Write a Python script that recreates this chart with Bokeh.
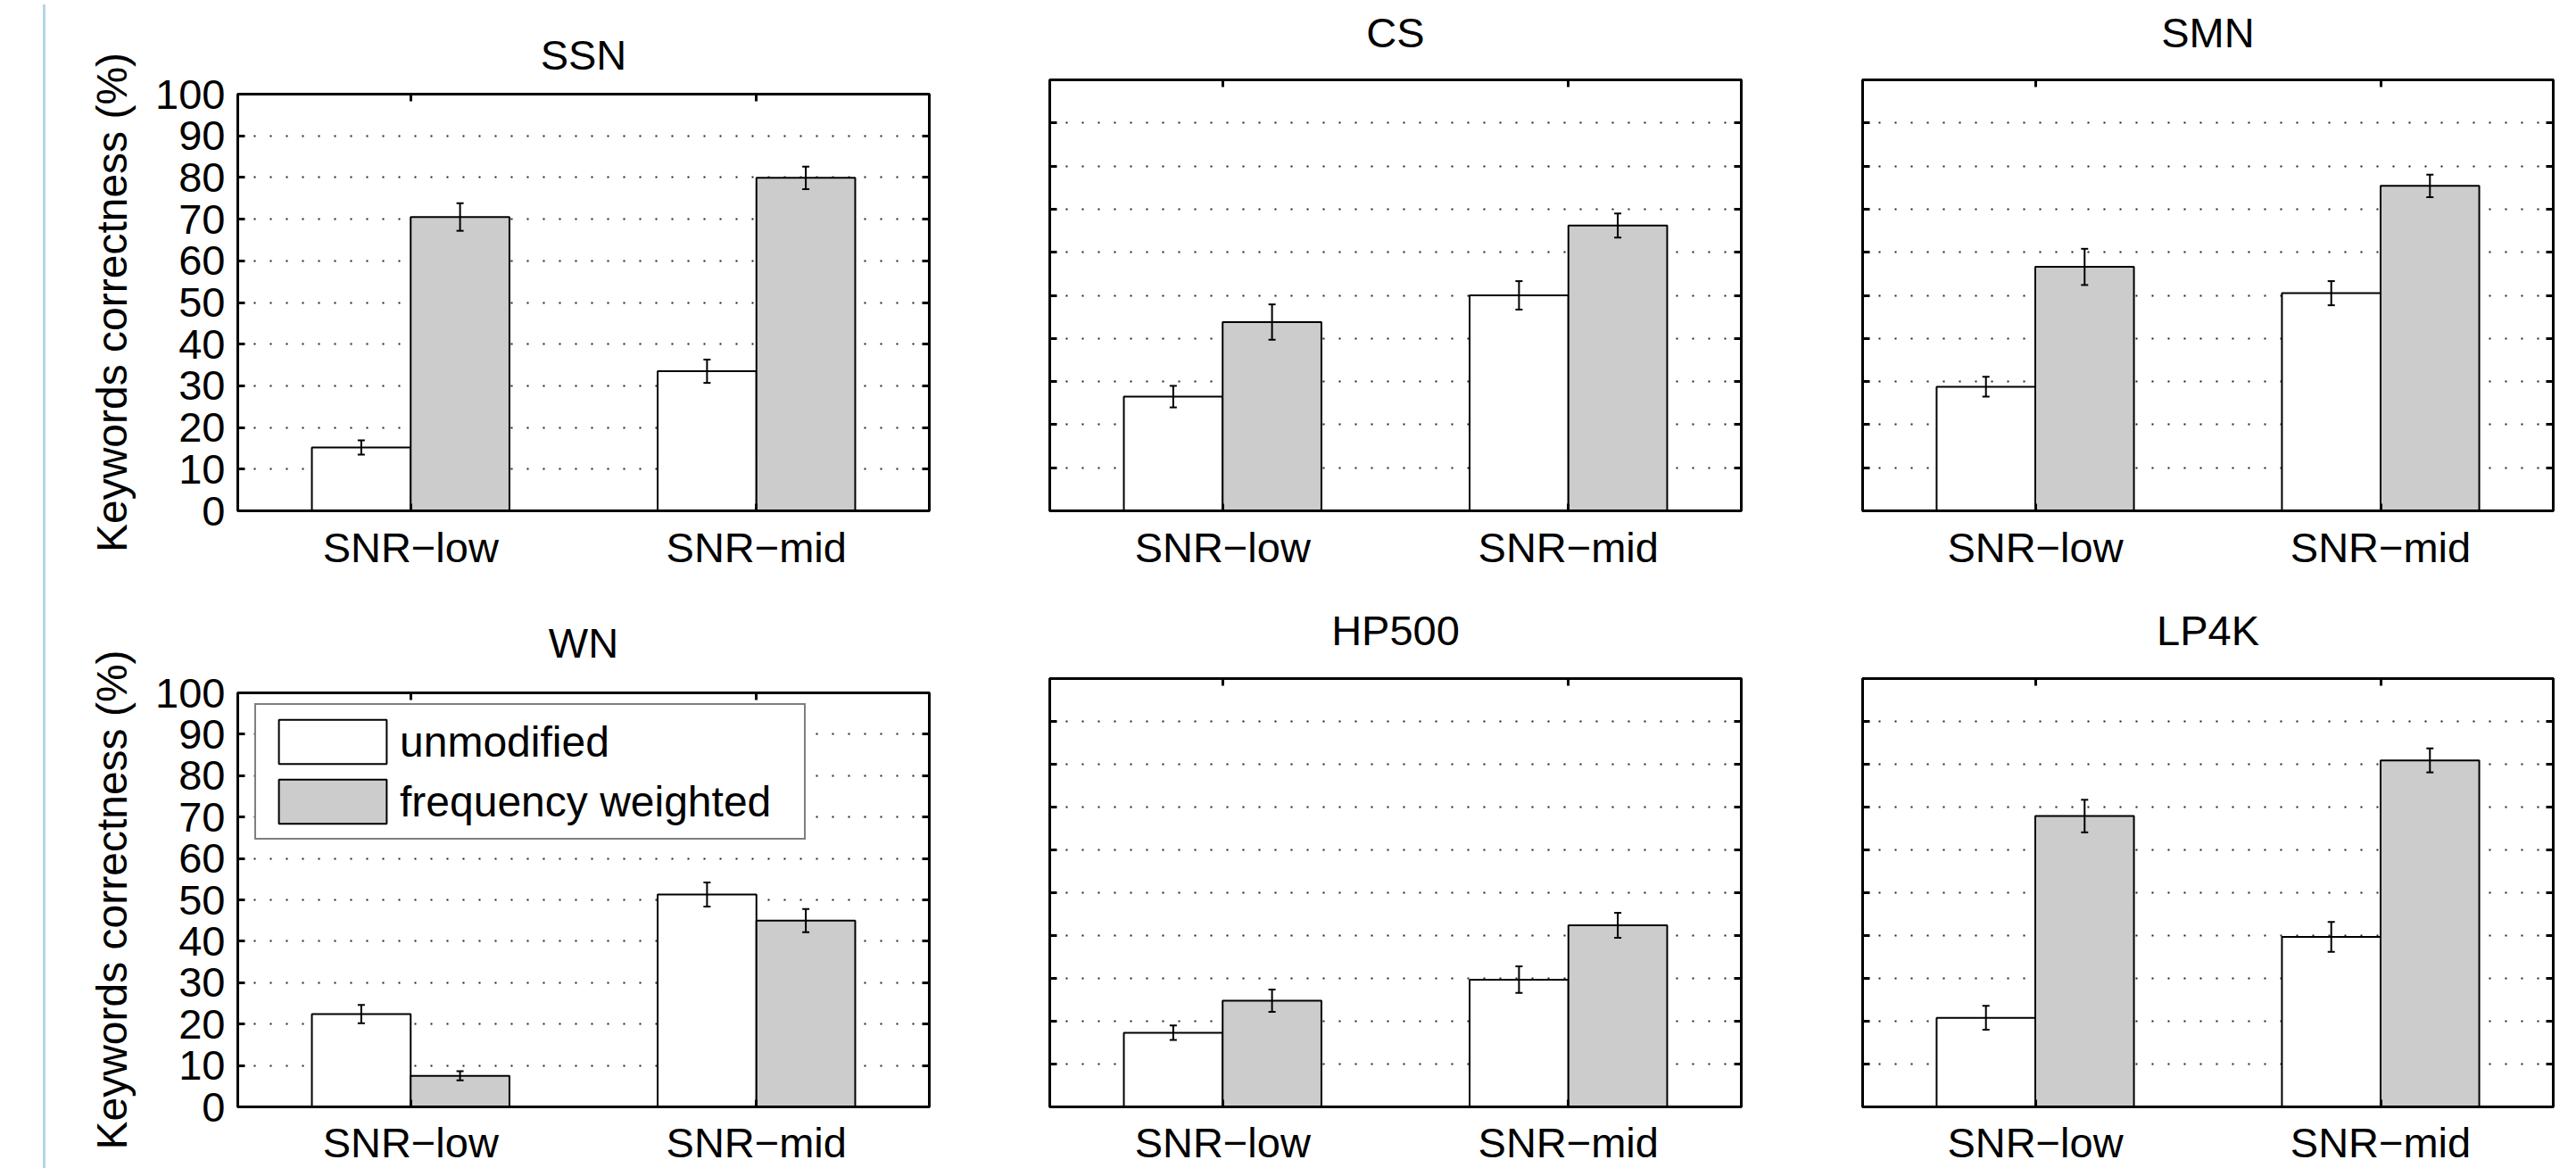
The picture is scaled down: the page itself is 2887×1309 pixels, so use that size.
from bokeh.plotting import figure
from bokeh.models import (ColumnDataSource, FactorRange, Range1d, FixedTicker, LinearAxis,
                          CategoricalAxis, Whisker, TeeHead, Legend, LegendItem, Div, Spacer)
from bokeh.transform import dodge
from bokeh.layouts import row, column
from bokeh.embed import file_html
from bokeh.resources import INLINE

FONT = "Liberation Sans"

categories = ["SNR\u2212low", "SNR\u2212mid"]
y_ticks = [0, 10, 20, 30, 40, 50, 60, 70, 80, 90, 100]
series_labels = ["unmodified", "frequency weighted"]
y_label = "Keywords correctness (%)"

ssn_unmod = [15.2, 33.5]
ssn_fw = [70.5, 79.9]
ssn_unmod_err = [1.7, 2.8]
ssn_fw_err = [3.3, 2.7]

cs_unmod = [26.5, 50.0]
cs_fw = [43.8, 66.2]
cs_unmod_err = [2.5, 3.3]
cs_fw_err = [4.1, 2.8]

smn_unmod = [28.8, 50.5]
smn_fw = [56.6, 75.4]
smn_unmod_err = [2.3, 2.8]
smn_fw_err = [4.2, 2.6]

wn_unmod = [22.4, 51.3]
wn_fw = [7.5, 45.0]
wn_unmod_err = [2.2, 2.9]
wn_fw_err = [1.1, 2.8]

hp500_unmod = [17.3, 29.7]
hp500_fw = [24.8, 42.4]
hp500_unmod_err = [1.7, 3.1]
hp500_fw_err = [2.6, 2.9]

lp4k_unmod = [20.8, 39.7]
lp4k_fw = [67.9, 80.9]
lp4k_unmod_err = [2.8, 3.5]
lp4k_fw_err = [3.8, 2.8]

BAR_W = 2 / 7


def make_panel(name, unmod, fw, err_u, err_f, w, h, bl, br, bt, bb,
               ylab, xstand, tstand, legend=False):
    src = ColumnDataSource(dict(
        cat=categories, unmod=unmod, fw=fw,
        u_up=[a + b for a, b in zip(unmod, err_u)],
        u_lo=[a - b for a, b in zip(unmod, err_u)],
        f_up=[a + b for a, b in zip(fw, err_f)],
        f_lo=[a - b for a, b in zip(fw, err_f)],
    ))
    p = figure(x_range=FactorRange(*categories), y_range=Range1d(0, 100),
               width=w, height=h, min_border_left=bl, min_border_right=br,
               min_border_top=bt, min_border_bottom=bb, title=None,
               toolbar_location=None, output_backend="svg")
    p.background_fill_color = "white"
    p.border_fill_color = "white"
    p.outline_line_color = "black"
    p.outline_line_width = 3

    ax = p.yaxis[0]
    ax.ticker = FixedTicker(ticks=y_ticks)
    ax.major_tick_in = 8
    ax.major_tick_out = 0
    ax.minor_tick_line_color = None
    ax.axis_line_width = 3
    ax.major_tick_line_width = 3
    if ylab:
        ax.major_label_text_font = FONT
        ax.major_label_text_font_size = "47px"
        ax.major_label_text_color = "black"
        ax.major_label_standoff = 14
        ax.axis_label = y_label
        ax.axis_label_text_font = FONT
        ax.axis_label_text_font_size = "48px"
        ax.axis_label_text_font_style = "normal"
        ax.axis_label_text_color = "black"
        ax.axis_label_standoff = 19
    else:
        ax.major_label_text_color = None
        ax.major_label_standoff = 0

    bx = p.xaxis[0]
    bx.major_tick_in = 8
    bx.major_tick_out = 0
    bx.axis_line_width = 3
    bx.major_tick_line_width = 3
    bx.major_label_text_font = FONT
    bx.major_label_text_font_size = "47px"
    bx.major_label_text_color = "black"
    bx.major_label_standoff = xstand

    ra = LinearAxis(ticker=FixedTicker(ticks=y_ticks), major_tick_in=8, major_tick_out=0,
                    major_label_text_color=None, major_label_standoff=0,
                    axis_line_width=3, major_tick_line_width=3,
                    minor_tick_line_color=None)
    p.add_layout(ra, "right")
    # top axis: inward ticks at the categories, panel name as its label (the title)
    ta = CategoricalAxis(major_tick_in=8, major_tick_out=0,
                         major_label_text_color=None, major_label_standoff=0,
                         axis_line_width=3, major_tick_line_width=3,
                         axis_label=name, axis_label_standoff=tstand,
                         axis_label_text_font=FONT, axis_label_text_font_size="47px",
                         axis_label_text_font_style="normal", axis_label_text_color="black")
    p.add_layout(ta, "above")

    p.xgrid.visible = False
    p.ygrid.ticker = FixedTicker(ticks=y_ticks[1:-1])
    p.ygrid.grid_line_color = "#222222"
    p.ygrid.grid_line_width = 2
    p.ygrid.grid_line_dash = "2 16"

    r1 = p.vbar(x=dodge("cat", -BAR_W / 2, range=p.x_range), top="unmod", bottom=0,
                width=BAR_W, source=src, fill_color="white", line_color="black", line_width=2)
    r2 = p.vbar(x=dodge("cat", BAR_W / 2, range=p.x_range), top="fw", bottom=0,
                width=BAR_W, source=src, fill_color="#cccccc", line_color="black", line_width=2)

    for off, up, lo in [(-BAR_W / 2, "u_up", "u_lo"), (BAR_W / 2, "f_up", "f_lo")]:
        wk = Whisker(base=dodge("cat", off, range=p.x_range), upper=up, lower=lo, source=src,
                     line_width=2, line_color="black", level="annotation",
                     upper_head=TeeHead(size=8, line_width=2, line_color="black"),
                     lower_head=TeeHead(size=8, line_width=2, line_color="black"))
        p.add_layout(wk)

    if legend:
        lg = Legend(items=[LegendItem(label=series_labels[0], renderers=[r1]),
                           LegendItem(label=series_labels[1], renderers=[r2])],
                    location=(19, 299), margin=0, padding=10, spacing=5,
                    glyph_width=151, glyph_height=62, label_height=62, label_width=443,
                    label_standoff=0, label_text_font=FONT, label_text_font_size="48px",
                    label_text_color="black",
                    border_line_color="black", border_line_width=2,
                    background_fill_color="white", background_fill_alpha=1)
        p.add_layout(lg)
    return p


p1 = make_panel("SSN", ssn_unmod, ssn_fw, ssn_unmod_err, ssn_fw_err,
                1046, 650, 210, 61, 105, 78, True, 14, 18)
p2 = make_panel("CS", cs_unmod, cs_fw, cs_unmod_err, cs_fw_err,
                890, 650, 74, 41, 89, 78, False, 14, 27)
p3 = make_panel("SMN", smn_unmod, smn_fw, smn_unmod_err, smn_fw_err,
                897, 650, 95, 28, 89, 78, False, 14, 27)
p4 = make_panel("WN", wn_unmod, wn_fw, wn_unmod_err, wn_fw_err,
                1046, 659, 210, 61, 126, 68, True, 13, 30, legend=True)
p5 = make_panel("HP500", hp500_unmod, hp500_fw, hp500_unmod_err, hp500_fw_err,
                890, 659, 74, 41, 110, 68, False, 13, 28)
p6 = make_panel("LP4K", lp4k_unmod, lp4k_fw, lp4k_unmod_err, lp4k_fw_err,
                897, 659, 95, 28, 110, 68, False, 13, 28)

pad = Spacer(width=43, height=1309)
blue = Div(text="", width=3, height=1309, styles={"background-color": "#b4d5e9"})
layout = row(pad, blue, column(p1, p4), column(p2, p5), column(p3, p6))

open("out.html", "w").write(file_html(layout, INLINE))
